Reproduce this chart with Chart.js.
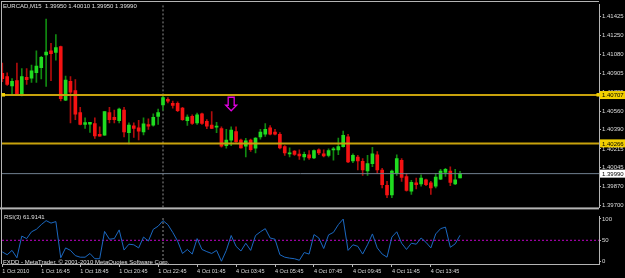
<!DOCTYPE html>
<html><head><meta charset="utf-8">
<script src="https://cdn.jsdelivr.net/npm/chart.js@4.4.1/dist/chart.umd.min.js"></script>
<style>
html,body{margin:0;padding:0;background:#000;}
#wrap{position:relative;width:625px;height:278px;background:#000;overflow:hidden;}
canvas{position:absolute;left:0;}
#main{top:0;}
#rsi{top:212px;}
.txt{position:absolute;color:#e0e0e0;font-family:"Liberation Sans",Arial,sans-serif;font-size:6px;white-space:pre;line-height:1;}
</style></head><body>
<div id="wrap">
<canvas id="main" width="625" height="212"></canvas>
<canvas id="rsi" width="625" height="66"></canvas>
<div class="txt" style="left:3px;top:3px;">EURCAD,M15  1.39950 1.40010 1.39950 1.39990</div>
<div class="txt" style="left:4px;top:214px;">RSI(3) 61.9141</div>
<div class="txt" style="left:3px;top:259px;">FXDD - MetaTrader, © 2001-2010 MetaQuotes Software Corp.</div>
</div>
<script>
// ---------------- data ----------------
const opens = [1.40905,1.40876,1.40791,1.40838,1.40705,1.40868,1.40862,1.40912,1.40956,1.41072,
1.41111,1.41096,1.41149,1.40660,1.40832,1.40747,1.40547,1.40438,1.40441,1.40447,
1.40349,1.40340,1.40547,1.40503,1.40474,1.40569,1.40364,1.40425,1.40409,1.40370,
1.40438,1.40432,1.40512,1.40616,1.40667,1.40631,1.40631,1.40587,1.40474,1.40512,
1.40453,1.40536,1.40467,1.40432,1.40414,1.40402,1.40245,1.40296,1.40373,1.40296,
1.40240,1.40296,1.40222,1.40325,1.40349,1.40409,1.40370,1.40349,1.40236,1.40171,
1.40195,1.40169,1.40142,1.40162,1.40133,1.40207,1.40171,1.40156,1.40207,1.40207,
1.40236,1.40325,1.40106,1.40142,1.40103,1.40014,1.40082,1.40162,1.40023,1.39884,
1.39795,1.39993,1.40112,1.39964,1.39831,1.39905,1.39896,1.39934,1.39905,1.39875,
1.39940,1.40000,1.40014,1.39896,1.39950];
const highs = [1.40998,1.40909,1.40856,1.40998,1.40948,1.40948,1.40980,1.41111,1.41060,1.41401,
1.41179,1.41259,1.41154,1.40880,1.40876,1.40847,1.40595,1.40500,1.40459,1.40498,
1.40418,1.40556,1.40595,1.40569,1.40587,1.40595,1.40453,1.40453,1.40476,1.40500,
1.40489,1.40536,1.40578,1.40705,1.40684,1.40651,1.40645,1.40595,1.40527,1.40527,
1.40542,1.40542,1.40482,1.40556,1.40459,1.40418,1.40394,1.40418,1.40418,1.40305,
1.40311,1.40305,1.40320,1.40394,1.40447,1.40429,1.40394,1.40364,1.40245,1.40225,
1.40201,1.40207,1.40186,1.40201,1.40207,1.40216,1.40207,1.40216,1.40231,1.40314,
1.40378,1.40349,1.40171,1.40156,1.40127,1.40156,1.40231,1.40192,1.40038,1.39920,
1.40023,1.40162,1.40127,1.39993,1.39929,1.39949,1.39978,1.39940,1.39920,1.39993,
1.40029,1.40038,1.40053,1.40029,1.40010];
const lows = [1.40829,1.40794,1.40705,1.40705,1.40700,1.40803,1.40823,1.40823,1.40853,1.40785,
1.40838,1.41025,1.40654,1.40656,1.40453,1.40482,1.40434,1.40402,1.40367,1.40311,
1.40331,1.40338,1.40453,1.40453,1.40453,1.40325,1.40260,1.40320,1.40298,1.40343,
1.40394,1.40423,1.40438,1.40569,1.40636,1.40587,1.40556,1.40476,1.40429,1.40438,
1.40438,1.40438,1.40400,1.40400,1.40364,1.40231,1.40222,1.40245,1.40275,1.40222,
1.40142,1.40192,1.40180,1.40305,1.40329,1.40343,1.40343,1.40216,1.40156,1.40142,
1.40156,1.40120,1.40112,1.40120,1.40127,1.40162,1.40142,1.40142,1.40112,1.40162,
1.40231,1.40091,1.40091,1.40023,1.39973,1.39973,1.40053,1.39993,1.39860,1.39771,
1.39771,1.39973,1.39920,1.39831,1.39800,1.39851,1.39875,1.39881,1.39800,1.39860,
1.39934,1.39964,1.39881,1.39889,1.39950];
const closes = [1.40856,1.40803,1.40832,1.40720,1.40876,1.40847,1.40927,1.40972,1.41051,1.41099,
1.41084,1.41141,1.40675,1.40844,1.40734,1.40533,1.40438,1.40456,1.40459,1.40334,
1.40331,1.40556,1.40482,1.40482,1.40578,1.40370,1.40432,1.40402,1.40378,1.40444,
1.40423,1.40503,1.40547,1.40684,1.40651,1.40613,1.40565,1.40482,1.40506,1.40447,
1.40527,1.40447,1.40423,1.40402,1.40423,1.40240,1.40296,1.40387,1.40281,1.40225,
1.40290,1.40209,1.40314,1.40370,1.40394,1.40349,1.40349,1.40225,1.40180,1.40180,
1.40165,1.40151,1.40165,1.40133,1.40201,1.40180,1.40151,1.40201,1.40216,1.40236,
1.40340,1.40097,1.40156,1.40106,1.40023,1.40082,1.40171,1.40023,1.39889,1.39795,
1.40014,1.40127,1.39955,1.39836,1.39911,1.39889,1.39949,1.39889,1.39860,1.39958,
1.40014,1.40029,1.39911,1.39934,1.39990];
const rsiValues = [22.8,16.3,26.4,9.1,59.8,54.0,69.9,75.7,86.6,96.0,
90.2,93.8,9.1,32.2,26.4,14.1,10.5,10.5,19.2,6.9,
6.9,70.7,52.5,54.0,74.3,27.2,40.9,39.5,32.2,57.6,
48.2,75.7,83.0,96.0,86.6,68.5,48.2,19.2,28.6,17.8,
54.0,28.6,23.5,19.2,26.4,1.1,26.4,61.2,35.9,25.0,
43.1,26.4,61.2,69.9,77.2,55.4,52.5,16.3,10.5,8.3,
6.9,3.3,21.4,17.8,63.4,55.4,30.8,62.7,68.5,86.6,
99.6,26.4,39.5,35.9,17.8,39.5,64.9,32.2,17.8,10.5,
57.6,69.9,43.1,28.6,43.1,40.9,55.4,45.3,32.2,64.9,
77.2,80.8,33.7,41.7,61.9141];
const timeTickBars = [0,8,16,24,32,40,48,56,64,72,80,88];
const timeTickLabels = ['1 Oct 2010','1 Oct 16:45','1 Oct 18:45','1 Oct 20:45','1 Oct 22:45','4 Oct 01:45',
  '4 Oct 03:45','4 Oct 05:45','4 Oct 07:45','4 Oct 09:45','4 Oct 11:45','4 Oct 13:45'];
const priceTicks = [1.39700,1.39870,1.40045,1.40215,1.40390,1.40560,1.40735,1.40905,1.41080,1.41250,1.41425];
const rsiTicks = [0,50,100];
const hLinePrices = [1.40707,1.40266];
const bidPrice = 1.39990;
const rsiLevel = 50;
const daySeparatorBar = 33;
const arrowBar = 47;
const arrowPrice = 1.40687;

// ---------------- view ----------------
const X_MIN = -0.062, X_MAX = 122.53;
const P_MIN = 1.39682, P_MAX = 1.41532;
const R_MIN = -5.43, R_MAX = 105.43;
const GRAY = '#b4b4b4';
const TXT = '#dcdcdc';
const FONT = {family:'"Liberation Sans", Arial, sans-serif', size:6};
const TIME_FONT = {family:'"Liberation Sans Narrow", "Liberation Sans", Arial, sans-serif', size:5.5};

const idx = opens.map((_, i) => i);
const isBull = i => closes[i] >= opens[i];
const bodyBull = idx.filter(isBull).map(i => ({x:i, y:[opens[i], closes[i]]}));
const bodyBear = idx.filter(i => !isBull(i)).map(i => ({x:i, y:[opens[i], closes[i]]}));
const wickBull = idx.filter(isBull).map(i => ({x:i, y:[lows[i], highs[i]]}));
const wickBear = idx.filter(i => !isBull(i)).map(i => ({x:i, y:[lows[i], highs[i]]}));

function barDs(data, color, thick, order) {
  return {type:'bar', data, backgroundColor:color, borderWidth:0, barThickness:thick,
          minBarLength:1, grouped:false, order};
}
function hLine(v, color, width, dash, order) {
  return {type:'line', data:[{x:X_MIN,y:v},{x:X_MAX,y:v}], borderColor:color, borderWidth:width,
          borderDash:dash, pointRadius:0, order};
}
function vLine(xv, lo, hi) {
  return {type:'line', data:[{x:xv,y:lo},{x:xv,y:hi}], borderColor:'#8c8c8c', borderWidth:1,
          borderDash:[2,2], pointRadius:0, order:5};
}

const mainDecor = {
  id:'mainDecor',
  afterDraw(chart) {
    const {ctx, chartArea:a, scales:{x, y}} = chart;
    ctx.save();
    ctx.fillStyle = GRAY;
    ctx.fillRect(1, 1, a.right - 1, 1);
    ctx.fillRect(1, 1, 1, chart.height);
    ctx.fillRect(0, a.bottom, a.right, 2);
    // arrow
    const cx = x.getPixelForValue(arrowBar), ty = y.getPixelForValue(arrowPrice);
    ctx.strokeStyle = '#e000e0'; ctx.lineWidth = 1.3;
    ctx.beginPath();
    ctx.moveTo(cx-3, ty); ctx.lineTo(cx+3, ty); ctx.lineTo(cx+3, ty+8); ctx.lineTo(cx+5.5, ty+8);
    ctx.lineTo(cx, ty+13.5); ctx.lineTo(cx-5.5, ty+8); ctx.lineTo(cx-3, ty+8); ctx.closePath();
    ctx.stroke();
    // price boxes
    ctx.font = '6px "Liberation Sans", Arial, sans-serif';
    ctx.textBaseline = 'middle'; ctx.textAlign = 'left';
    const box = (v, bg) => {
      const py = y.getPixelForValue(v);
      ctx.fillStyle = bg; ctx.fillRect(a.right + 1, py - 4, 25, 8);
      ctx.fillStyle = '#000'; ctx.fillText(v.toFixed(5), a.right + 3, py + 0.5);
      return py;
    };
    const p1 = box(hLinePrices[0], '#f2d000');
    box(hLinePrices[1], '#f2d000');
    box(bidPrice, '#ffffff');
    // selection handles
    ctx.fillStyle = '#f2d000';
    ctx.fillRect(1.5, p1 - 2, 3.5, 3.5);
    ctx.fillRect(a.right - 2.5, p1 - 2, 3.5, 3.5);
    ctx.restore();
  }
};
const rsiDecor = {
  id:'rsiDecor',
  afterDraw(chart) {
    const {ctx, chartArea:a} = chart;
    ctx.save();
    ctx.fillStyle = GRAY;
    ctx.fillRect(1, 0, 1, a.bottom);
    ctx.restore();
  }
};

Chart.defaults.font = FONT;
Chart.defaults.color = TXT;

new Chart(document.getElementById('main'), {
  type:'bar',
  data:{datasets:[
    hLine(hLinePrices[0], '#c8a20c', 2, [], -2),
    hLine(hLinePrices[1], '#c8a20c', 2, [], -2),
    hLine(bidPrice, '#708090', 1, [], -1),
    barDs(bodyBull, '#20dc20', 3, 1),
    barDs(bodyBear, '#f51212', 3, 1),
    barDs(wickBull, '#118a11', 1, 2),
    barDs(wickBear, '#b00c0c', 1, 2),
    vLine(daySeparatorBar, P_MIN, P_MAX)
  ]},
  options:{
    responsive:false, animation:false, devicePixelRatio:1,
    layout:{padding:{left:2, right:0, top:2, bottom:2}, autoPadding:false},
    plugins:{legend:{display:false}, tooltip:{enabled:false}},
    scales:{
      x:{type:'linear', display:false, min:X_MIN, max:X_MAX, offset:false, grid:{offset:false}},
      y:{type:'linear', position:'right', min:P_MIN, max:P_MAX, beginAtZero:false,
         afterBuildTicks:ax => { ax.ticks = priceTicks.map(v => ({value:v})); },
         afterFit:ax => { ax.width = 26; },
         ticks:{callback:v => Number(v).toFixed(5), padding:1, color:TXT, font:FONT},
         grid:{drawOnChartArea:false, tickLength:2, color:GRAY},
         border:{display:true, color:GRAY, width:1}}
    }
  },
  plugins:[mainDecor]
});

new Chart(document.getElementById('rsi'), {
  type:'line',
  data:{datasets:[
    {data:rsiValues.map((v,i) => ({x:i, y:v})), borderColor:'#1b68c0', borderWidth:1, pointRadius:0, tension:0, order:0},
    hLine(rsiLevel, '#c000c8', 1, [2,2], 1),
    vLine(daySeparatorBar, R_MIN, R_MAX)
  ]},
  options:{
    responsive:false, animation:false, devicePixelRatio:1,
    layout:{padding:{left:2, right:0, top:1, bottom:0}, autoPadding:false},
    plugins:{legend:{display:false}, tooltip:{enabled:false}},
    scales:{
      x:{type:'linear', position:'bottom', min:X_MIN, max:X_MAX, offset:false,
         afterBuildTicks:ax => { ax.ticks = timeTickBars.map(v => ({value:v})); },
         afterFit:ax => { ax.height = 14; },
         ticks:{autoSkip:false, maxRotation:0, minRotation:0, align:'start', padding:1,
                callback:(v, i) => timeTickLabels[i], color:TXT, font:TIME_FONT},
         grid:{drawOnChartArea:false, tickLength:3, color:GRAY, offset:false},
         border:{display:true, color:GRAY, width:1}},
      y:{type:'linear', position:'right', min:R_MIN, max:R_MAX,
         afterBuildTicks:ax => { ax.ticks = rsiTicks.map(v => ({value:v})); },
         afterFit:ax => { ax.width = 26; },
         ticks:{callback:v => String(v), padding:1, color:TXT, font:FONT},
         grid:{drawOnChartArea:false, tickLength:2, color:GRAY},
         border:{display:true, color:GRAY, width:1}}
    }
  },
  plugins:[rsiDecor]
});
</script>
</body></html>
